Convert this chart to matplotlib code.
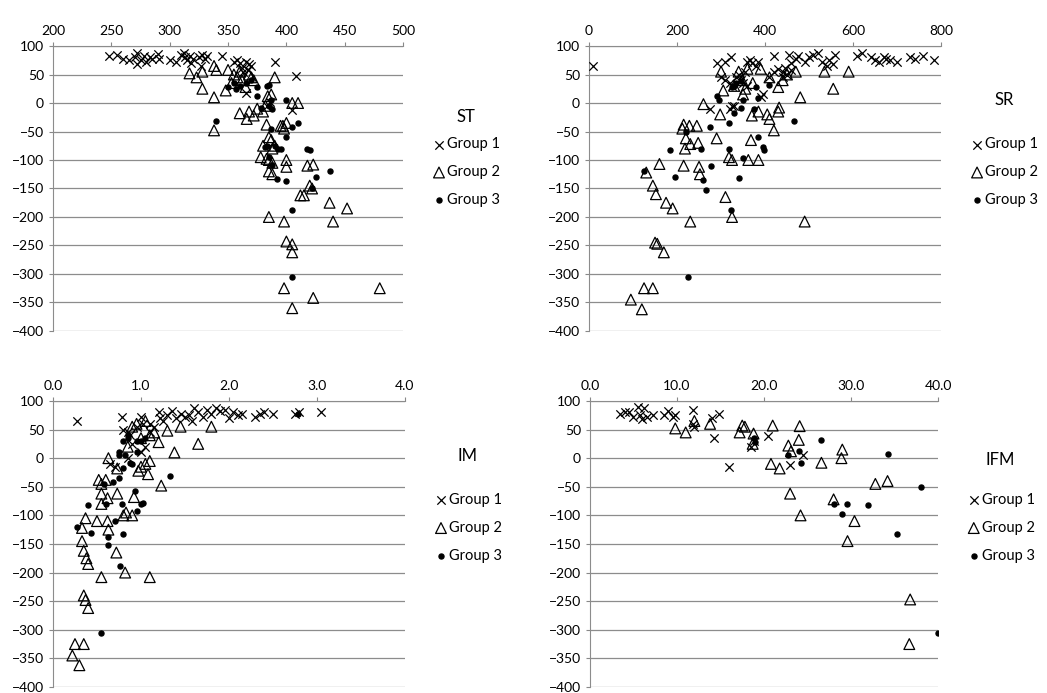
import matplotlib.pyplot as plt
from matplotlib.ticker import FormatStrFormatter

plt.rcParams['font.family'] = ['Lato', 'DejaVu Sans']

# ---------------- ST ----------------
st_g1_x = [248, 255, 260, 265, 270, 272, 272, 275, 278, 280, 283, 285, 290, 291, 300, 305, 310, 312,
           313, 315, 317, 318, 320, 325, 327, 328, 330, 332, 345, 355, 358, 360, 362, 365, 368, 370,
           363, 367, 390, 408, 405, 365, 383, 386]
st_g1_y = [83, 84, 78, 76, 80, 68, 88, 76, 82, 72, 80, 78, 86, 78, 75, 72, 85, 88,
           80, 75, 82, 70, 78, 80, 65, 85, 78, 82, 82, 72, 76, 70, 62, 72, 68, 65,
           55, 58, 72, 48, -12, 18, -5, 2]
st_g2_x = [317, 323, 328, 328, 338, 338, 338, 340, 350, 348, 353, 355, 358, 360, 362, 365, 368, 370,
           372, 360, 366, 368, 372, 375, 380, 382, 384, 387, 390, 383, 395, 397, 400, 398, 385, 387,
           390, 380, 388, 378, 385, 383, 388, 388, 385, 400, 400, 418, 423, 420, 422, 412, 415, 437,
           452, 440, 385, 398, 400, 405, 405, 398, 423, 405, 480, 405, 410]
st_g2_y = [52, 45, 25, 55, 65, 10, -48, 58, 58, 22, 35, 50, 45, 55, 40, 28, 50, 45,
           40, -18, -28, -15, -22, -10, -15, -5, 12, 15, 45, -38, -40, -40, -35, -45, -60, -65,
           -75, -75, -80, -95, -100, -98, -105, -125, -120, -100, -112, -110, -108, -145, -150, -162, -162, -175,
           -185, -208, -200, -208, -243, -248, -262, -325, -342, -360, -325, 0, 0]
st_g3_x = [340, 350, 355, 357, 360, 365, 370, 375, 375, 378, 383, 385, 387, 385, 388, 400, 405, 410,
           400, 390, 393, 395, 382, 385, 388, 392, 400, 418, 420, 422, 425, 437, 405, 405, 387, 383]
st_g3_y = [-32, 28, 35, 25, 30, 35, 40, 28, 12, -8, 30, 32, 5, -5, -10, 5, -42, -35,
           -60, -75, -80, -80, -78, -95, -108, -133, -137, -80, -82, -150, -130, -120, -188, -305, -45, -75]

# ---------------- SR ----------------
sr_g1_x = [8, 290, 310, 322, 300, 310, 320, 325, 335, 340, 345, 355, 360, 365, 370, 380, 385, 395,
           390, 330, 320, 325, 275, 420, 420, 430, 440, 445, 455, 460, 470, 475, 490, 500, 510, 520,
           530, 540, 545, 555, 560, 610, 620, 640, 650, 660, 670, 675, 685, 700, 730, 740, 760, 785,
           350, 360, 410, 440, 450, 460]
sr_g1_y = [65, 70, 72, 80, 45, 40, 35, 30, 45, 50, 40, 55, 72, 75, 70, 65, 72, 15,
           10, -5, -10, -5, -10, 82, 55, 60, 55, 62, 85, 70, 78, 82, 72, 80, 85, 88,
           72, 65, 75, 68, 85, 82, 88, 80, 75, 72, 80, 78, 75, 72, 80, 77, 82, 75,
           35, 30, 45, 45, 50, 58]
sr_g2_x = [95, 120, 125, 145, 130, 145, 150, 155, 152, 170, 160, 175, 190, 215, 212, 220, 218, 215,
           228, 230, 230, 245, 248, 250, 252, 260, 290, 298, 300, 305, 310, 318, 325, 325, 330, 340,
           348, 350, 355, 360, 362, 368, 370, 372, 385, 385, 390, 405, 410, 420, 430, 432, 430, 450,
           470, 480, 490, 535, 555, 590, 410, 440]
sr_g2_y = [-345, -362, -325, -325, -122, -145, -245, -247, -160, -262, -107, -175, -185, -38, -45, -62, -80, -110,
           -40, -72, -208, -40, -70, -112, -125, -2, -62, -20, 55, 22, -165, -95, -100, -200, 30, 55,
           40, 15, 25, 60, -100, -65, -22, 35, -15, -100, 60, -20, -28, -48, -15, -8, 28, 50,
           55, 10, -208, 55, 25, 55, 45, 40]
sr_g3_x = [125, 185, 195, 220, 225, 255, 258, 265, 275, 278, 290, 295, 318, 318, 322, 325, 330, 330,
           340, 345, 350, 350, 375, 380, 383, 383, 395, 397, 410, 465, 335, 345]
sr_g3_y = [-120, -82, -130, -50, -305, -80, -135, -152, -42, -110, 12, 5, -35, -80, -188, 28, -18, 30,
           -132, -8, 5, -97, -10, 28, 8, -60, -78, -82, 32, -32, 35, 38]

# ---------------- IM ----------------
im_g1_x = [0.27, 0.78, 0.8, 0.85, 0.88, 0.9, 0.95, 1.0, 1.02, 1.05, 1.1, 1.15, 1.2, 1.22, 1.25, 1.3,
           1.35, 1.4, 1.45, 1.5, 1.55, 1.6, 1.65, 1.58, 1.7, 1.75, 1.8, 1.85, 1.9, 1.95, 2.0, 2.05,
           2.1, 2.15, 2.3, 2.35, 2.4, 2.5, 2.75, 2.8, 3.05, 0.65, 0.7, 0.85, 1.0, 1.1]
im_g1_y = [65, 72, 50, 45, 40, 25, 55, 72, 60, 20, 45, 55, 80, 70, 65, 75,
           82, 70, 78, 72, 75, 88, 80, 65, 72, 85, 78, 88, 82, 85, 70, 80,
           75, 78, 72, 78, 80, 78, 78, 80, 80, -10, -15, 0, 10, 60]
im_g2_x = [0.22, 0.25, 0.3, 0.35, 0.35, 0.37, 0.4, 0.33, 0.35, 0.38, 0.4, 0.33, 0.37, 0.5, 0.55, 0.52,
           0.55, 0.55, 0.55, 0.6, 0.62, 0.62, 0.63, 0.63, 0.73, 0.73, 0.72, 0.8, 0.82, 0.83, 0.9, 0.92,
           0.97, 1.0, 1.05, 1.08, 1.1, 1.1, 1.2, 1.23, 1.3, 1.38, 1.45, 1.65, 1.8, 0.9, 0.95, 1.0,
           1.05, 1.1, 1.15, 0.85]
im_g2_y = [-345, -325, -362, -325, -240, -248, -262, -145, -162, -175, -185, -122, -105, -110, -208, -38,
           -45, -62, -80, -38, -70, -110, -125, 0, -62, -18, -165, -100, -200, -95, -100, -68,
           -22, -15, -10, -28, -5, -208, 28, -48, 48, 10, 55, 25, 55, 55, 60, 35,
           65, 40, 45, 20]
im_g3_x = [0.27, 0.4, 0.43, 0.55, 0.58, 0.6, 0.62, 0.63, 0.68, 0.7, 0.75, 0.76, 0.78, 0.8, 0.8, 0.75,
           0.75, 0.82, 0.85, 0.88, 0.9, 0.93, 0.95, 0.95, 1.0, 1.02, 1.33, 0.8, 0.85, 1.0, 1.05, 2.78, 0.95]
im_g3_y = [-120, -82, -130, -305, -45, -80, -152, -137, -42, -110, -35, -188, -80, -18, -132, 10,
           5, 5, 35, -8, -10, -58, 30, -92, -80, -78, -32, 30, 40, 30, 35, 78, 10]

# ---------------- IFM ----------------
ifm_g1_x = [3.5, 4, 4.5, 5, 5.5, 5.8, 6, 6.2, 6.5, 7.2, 8.5, 9, 9.5, 9.8, 11.8, 11.8, 14, 14.3,
            14.8, 16, 18.5, 18.8, 20.5, 23, 24.5, 12]
ifm_g1_y = [78, 80, 80, 72, 90, 75, 68, 88, 72, 75, 75, 82, 72, 75, 85, 60, 70, 35,
            78, -15, 20, 30, 38, -12, 5, 55]
ifm_g2_x = [9.8, 11, 12, 13.8, 17.2, 17.5, 17.8, 18.8, 18.7, 20.8, 21, 21.8, 22.8, 23.1, 23, 24, 24.1, 24.2,
            26.6, 28, 28.9, 29, 29.6, 30.4, 32.8, 34.2, 36.8, 36.7]
ifm_g2_y = [52, 45, 65, 60, 45, 57, 55, 43, 25, -10, 57, -18, 22, 12, -62, 32, 56, -100,
            -8, -72, 0, 15, -145, -110, -45, -40, -247, -325]
ifm_g3_x = [18.9, 19, 22.8, 24, 24.2, 26.5, 28, 29, 29.5, 32, 34.3, 35.3, 38, 40]
ifm_g3_y = [35, 28, 5, 12, -8, 32, -80, -97, -80, -82, 8, -132, -50, -305]

# name, axes rect, xlim, x step, tick format, legend title gap
panels = [
    ('ST', [0.0506, 0.5224, 0.3344, 0.4112], (200, 500), 50, '%d', 9,
     st_g1_x, st_g1_y, st_g2_x, st_g2_y, st_g3_x, st_g3_y),
    ('SR', [0.5626, 0.5224, 0.3362, 0.4112], (0, 800), 200, '%d', 21,
     sr_g1_x, sr_g1_y, sr_g2_x, sr_g2_y, sr_g3_x, sr_g3_y),
    ('IM', [0.0506, 0.0087, 0.3362, 0.4127], (0, 4), 1, '%.1f', 21,
     im_g1_x, im_g1_y, im_g2_x, im_g2_y, im_g3_x, im_g3_y),
    ('IFM', [0.5635, 0.0087, 0.3324, 0.4127], (0, 40), 10, '%.1f', 18,
     ifm_g1_x, ifm_g1_y, ifm_g2_x, ifm_g2_y, ifm_g3_x, ifm_g3_y),
]

fig = plt.figure(figsize=(10.47, 6.93), dpi=100)

for name, pos, xlim, xstep, fmt, gap, x1, y1, x2, y2, x3, y3 in panels:
    ax = fig.add_axes(pos)
    ax.scatter(x1, y1, marker='x', s=36, c='black', linewidths=0.9, label='Group 1', zorder=3)
    ax.scatter(x2, y2, marker='^', s=60, facecolors='none', edgecolors='black', linewidths=0.9,
               label='Group 2', zorder=3)
    ax.scatter(x3, y3, marker='o', s=13, c='black', label='Group 3', zorder=3)

    ax.set_xlim(xlim)
    ax.set_ylim(-400, 100)
    ticks = [xlim[0] + i * xstep for i in range(int(round((xlim[1] - xlim[0]) / xstep)) + 1)]
    ax.set_xticks(ticks)
    ax.xaxis.set_major_formatter(FormatStrFormatter(fmt))
    ax.set_yticks(range(-400, 101, 50))
    ax.xaxis.tick_top()
    ax.tick_params(axis='both', labelsize=10, colors='#888888', labelcolor='black', length=3)
    ax.grid(axis='y', color='#8c8c8c', linewidth=0.9)
    ax.set_axisbelow(True)
    for s in ['right', 'bottom']:
        ax.spines[s].set_visible(False)
    ax.spines['left'].set_color('#8c8c8c')
    ax.spines['top'].set_color('#8c8c8c')

    leg = ax.legend(loc='lower left', bbox_to_anchor=(1.065, 0.414), frameon=False, title=name,
                    fontsize=10.5, title_fontsize=12, handletextpad=0.05, labelspacing=0.95,
                    handlelength=1.0, borderaxespad=0)
    leg._legend_box.sep = gap

plt.savefig('out.png', dpi=100)
